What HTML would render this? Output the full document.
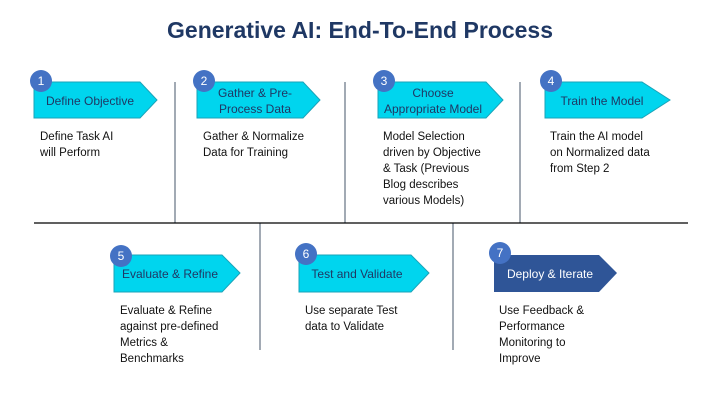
<!DOCTYPE html>
<html><head><meta charset="utf-8"><style>
html,body{margin:0;padding:0;background:#fff;}
svg{display:block;font-family:"Liberation Sans",sans-serif;}
</style></head><body>
<svg width="720" height="405" viewBox="0 0 720 405">
<text x="360" y="38" text-anchor="middle" font-size="23" font-weight="bold" fill="#1f3864">Generative AI: End-To-End Process</text>
<g stroke="#44546a" stroke-width="1">
<line x1="175" y1="82" x2="175" y2="223"/>
<line x1="345" y1="82" x2="345" y2="223"/>
<line x1="520" y1="82" x2="520" y2="223"/>
<line x1="260" y1="223" x2="260" y2="350"/>
<line x1="453" y1="223" x2="453" y2="350"/>
</g>
<line x1="34" y1="223" x2="688" y2="223" stroke="#000" stroke-width="1.3"/>
<g fill="#00d5ee" stroke="#1aa3b8" stroke-width="1">
<polygon points="34,82 140,82 157,100 140,118 34,118"/>
<polygon points="197,82 303,82 320,100 303,118 197,118"/>
<polygon points="378,82 486,82 503,100 486,118 378,118"/>
<polygon points="545,82 642,82 670,100 642,118 545,118"/>
<polygon points="114,255 222,255 240,273 222,292 114,292"/>
<polygon points="299,255 411,255 429,273 411,292 299,292"/>
</g>
<polygon points="494,255 599,255 617,273 599,292 494,292" fill="#2f5597"/>
<g font-size="12" fill="#1f3864" text-anchor="middle">
<text x="90" y="105">Define Objective</text>
<text x="255" y="97">Gather &amp; Pre-</text>
<text x="255" y="113">Process Data</text>
<text x="433" y="97">Choose</text>
<text x="433" y="113">Appropriate Model</text>
<text x="602" y="105">Train the Model</text>
<text x="170" y="278">Evaluate &amp; Refine</text>
<text x="357" y="278">Test and Validate</text>
<text x="550" y="278" fill="#fff">Deploy &amp; Iterate</text>
</g>
<g fill="#4472c4">
<circle cx="41" cy="81" r="11"/><circle cx="204" cy="81" r="11"/><circle cx="384" cy="81" r="11"/><circle cx="551" cy="81" r="11"/>
<circle cx="121" cy="256" r="11"/><circle cx="306" cy="254" r="11"/><circle cx="500" cy="253" r="11"/>
</g>
<g font-size="12" fill="#fff" text-anchor="middle">
<text x="41" y="85">1</text><text x="204" y="85">2</text><text x="384" y="85">3</text><text x="551" y="85">4</text>
<text x="121" y="260">5</text><text x="306" y="258">6</text><text x="500" y="257">7</text>
</g>
<g font-size="11.5" fill="#111">
<text x="40" y="140">Define Task AI</text><text x="40" y="156">will Perform</text>
<text x="203" y="140">Gather &amp; Normalize</text><text x="203" y="156">Data for Training</text>
<text x="383" y="140">Model Selection</text><text x="383" y="156">driven by Objective</text><text x="383" y="172">&amp; Task (Previous</text><text x="383" y="188">Blog describes</text><text x="383" y="204">various Models)</text>
<text x="550" y="140">Train the AI model</text><text x="550" y="156">on Normalized data</text><text x="550" y="172">from Step 2</text>
<text x="120" y="314">Evaluate &amp; Refine</text><text x="120" y="330">against pre-defined</text><text x="120" y="346">Metrics &amp;</text><text x="120" y="362">Benchmarks</text>
<text x="305" y="314">Use separate Test</text><text x="305" y="330">data to Validate</text>
<text x="499" y="314">Use Feedback &amp;</text><text x="499" y="330">Performance</text><text x="499" y="346">Monitoring to</text><text x="499" y="362">Improve</text>
</g>
</svg>
</body></html>
